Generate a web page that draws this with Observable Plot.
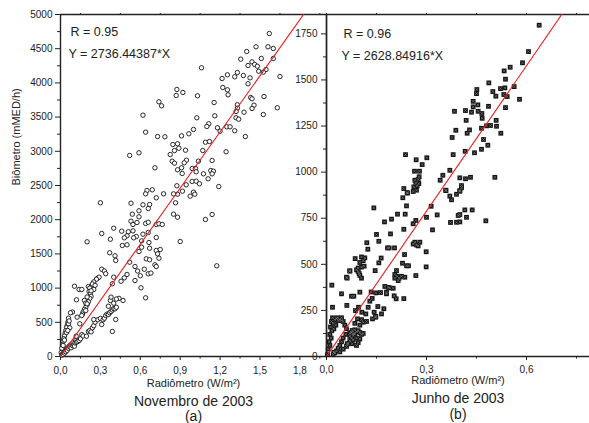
<!DOCTYPE html>
<html><head><meta charset="utf-8">
<script src="https://cdn.jsdelivr.net/npm/d3@7"></script>
<script src="https://cdn.jsdelivr.net/npm/@observablehq/plot@0.6"></script>
<style>
body{margin:0;background:#fff;}
#wrap{position:relative;width:589px;height:423px;overflow:hidden;}
#wrap svg{position:absolute;top:0;overflow:visible;}
</style></head><body><div id="wrap"></div>
<script>
// Novembro de 2003: [Radiômetro (W/m²), Biômetro (mMED/h)]
const novembro = [
[1.57,4722],[1.47,4528],[1.56,4528],[1.60,4503],[1.40,4459],[1.355,4347],[1.51,4357],[1.60,4357],[1.44,4308],[1.41,4254],[1.46,4269],[1.48,4244],[1.545,4196],[1.525,4157],[1.49,4171],[1.33,4152],[1.375,4108],[1.425,4074],[1.65,4094],[1.06,4221],[1.255,4118],[1.215,4064],[1.31,4089],[1.41,3987],[1.22,3933],[1.255,3899],[1.26,3826],[0.875,3904],[0.92,3860],[0.87,3816],[1.03,3811],[1.43,3787],[1.44,3768],[1.53,3801],[0.74,3724],[0.76,3665],[1.155,3713],[1.33,3680],[1.33,3630],[1.455,3674],[1.44,3626],[1.63,3636],[1.32,3582],[1.38,3572],[1.525,3538],[0.62,3528],[1.025,3490],[1.16,3519],[1.32,3490],[1.34,3470],[1.115,3402],[1.10,3363],[1.0,3319],[0.965,3256],[1.18,3344],[1.25,3358],[1.275,3358],[1.31,3300],[1.20,3294],[0.64,3280],[0.73,3216],[0.785,3212],[0.91,3226],[1.39,3216],[1.09,3133],[1.12,3143],[0.845,3099],[0.88,3110],[0.89,3045],[0.857,3011],[0.94,3016],[1.07,3011],[0.825,2953],[1.245,2993],[0.52,2939],[0.59,2978],[0.84,2855],[0.857,2826],[0.947,2870],[0.93,2832],[1.14,2866],[1.037,2855],[0.71,2759],[0.91,2759],[0.88,2730],[0.99,2749],[1.015,2749],[1.02,2700],[1.13,2719],[1.15,2709],[1.075,2671],[0.915,2676],[1.14,2671],[1.11,2598],
[0.875,2496],[0.945,2510],[0.917,2417],[0.99,2559],[1.02,2563],[1.045,2525],[1.19,2485],[1.0,2402],[0.975,2344],[1.01,2373],[0.88,2373],[0.85,2378],[0.65,2427],[0.64,2378],[0.69,2437],[0.72,2320],[0.775,2378],[0.30,2247],[0.53,2241],[0.865,2247],[0.62,2218],[0.67,2222],[0.66,2164],[0.59,2130],[0.54,2081],[0.85,2081],[0.88,2037],[0.59,2042],[1.14,2076],[1.09,2003],[0.53,1978],[0.545,1930],[0.575,1959],[0.64,1945],[0.66,1963],[0.72,1930],[0.74,1940],[0.765,1930],[0.40,1876],[0.46,1832],[0.51,1823],[0.545,1837],[0.62,1788],[0.66,1813],[0.31,1798],[0.50,1764],[0.48,1735],[0.57,1754],[0.55,1735],[0.72,1740],[0.375,1715],[0.20,1677],[0.61,1691],[0.665,1667],[0.90,1681],[0.465,1623],[0.50,1633],[0.61,1598],[0.67,1583],[0.72,1550],[0.75,1564],[0.73,1501],[0.59,1535],[0.37,1516],[0.41,1472],[0.415,1404],[0.645,1428],[0.67,1414],[0.74,1437],[0.71,1341],[0.72,1316],[0.52,1379],[0.56,1316],[0.63,1276],[1.175,1326],[0.31,1276],
[0.105,1028],[0.14,980],[0.16,980],[0.21,1023],[0.23,1013],[0.28,1145],[0.29,1160],[0.27,1130],[0.25,1090],[0.24,1060],[0.22,1000],[0.215,950],[0.225,920],[0.23,880],[0.22,850],[0.21,800],[0.2,760],[0.19,720],[0.18,690],[0.17,650],[0.165,620],[0.12,829],[0.09,650],[0.075,639],[0.06,560],[0.055,500],[0.05,453],[0.045,420],[0.04,380],[0.035,340],[0.03,300],[0.025,260],[0.02,220],[0.015,170],[0.01,120],[0.005,60],[0.06,480],[0.065,520],[0.07,420],[0.045,350],[0.055,380],[0.02,160],[0.03,240],[0.25,980],[0.26,1040],[0.23,960],[0.2,870],[0.18,820],[0.19,780],
[0.01,20],[0.015,40],[0.02,30],[0.025,60],[0.03,50],[0.035,80],[0.04,70],[0.045,110],[0.05,90],[0.055,130],[0.06,120],[0.065,150],[0.07,140],[0.075,170],[0.08,127],[0.085,180],[0.09,160],[0.095,200],[0.1,170],[0.105,151],[0.11,200],[0.115,234],[0.12,210],[0.13,219],[0.14,234],[0.15,259],[0.118,297],[0.16,320],[0.17,300],[0.195,297],[0.21,366],[0.22,380],[0.23,360],[0.24,420],[0.25,450],[0.26,502],[0.28,537],[0.30,556],[0.31,468],[0.32,537],[0.33,560],[0.34,599],[0.35,620],[0.36,614],[0.37,640],[0.38,658],[0.39,680],[0.40,700],[0.41,697],[0.42,720],[0.36,735],[0.40,779],[0.39,366],[0.415,541],[0.375,819],[0.38,868],[0.47,819],[0.44,850],[0.42,840],[0.25,541],[0.16,599],[0.145,478],[0.19,672],[0.20,770],[0.125,575],
[0.40,1160],[0.39,1063],[0.48,1150],[0.56,1111],[0.605,1004],[0.64,858],[0.66,1209],[0.68,1220],[0.455,1100],[0.5,1200],[0.58,1250],[0.6,1180],[0.33,1250],[0.34,1210]
];
// Junho de 2003
const junho = [
[0.638,1797],[0.606,1654],[0.588,1593],[0.551,1569],[0.533,1549],[0.537,1504],[0.487,1484],[0.451,1448],[0.45,1426],[0.499,1437],[0.522,1453],[0.535,1457],[0.563,1464],[0.508,1412],[0.532,1421],[0.542,1410],[0.579,1395],[0.44,1384],[0.454,1365],[0.486,1357],[0.44,1354],[0.537,1350],[0.384,1330],[0.417,1334],[0.435,1325],[0.455,1330],[0.466,1318],[0.419,1281],[0.467,1292],[0.509,1281],[0.465,1238],[0.48,1251],[0.492,1253],[0.51,1249],[0.388,1227],[0.429,1229],[0.422,1211],[0.523,1211],[0.377,1188],[0.471,1177],[0.484,1146],[0.465,1124],[0.416,1113],[0.444,1105],[0.38,1095],[0.237,1095],[0.269,1067],[0.287,1041],[0.301,1078],[0.264,1005],[0.279,1005],[0.37,1010],[0.278,975],[0.265,956],[0.277,938],[0.349,983],[0.341,956],[0.40,969],[0.417,964],[0.432,972],[0.505,972],[0.262,920],[0.27,902],[0.232,911],[0.242,889],[0.358,902],[0.405,927],[0.40,896],[0.268,940],[0.272,925],[0.275,960],[0.26,895],
[0.229,861],[0.243,886],[0.24,817],[0.142,806],[0.314,815],[0.358,900],[0.37,870],[0.375,850],[0.39,880],[0.40,900],[0.405,915],[0.213,772],[0.236,772],[0.195,745],[0.174,730],[0.268,738],[0.26,720],[0.30,755],[0.332,768],[0.415,795],[0.437,795],[0.40,770],[0.395,765],[0.42,755],[0.372,727],[0.39,728],[0.40,730],[0.478,736],[0.232,690],[0.318,687],[0.15,662],[0.192,665],[0.157,625],[0.121,617],[0.26,610],[0.265,620],[0.27,605],[0.28,620],[0.275,600],[0.124,582],[0.183,589],[0.188,589],[0.204,589],[0.299,568],[0.234,553],[0.164,534],[0.157,508],[0.086,531],[0.105,540],[0.115,535],[0.11,520],[0.1,510],[0.095,480],[0.105,485],[0.113,490],[0.095,460],[0.1,440],[0.105,425],[0.09,470],[0.098,450],[0.07,465],[0.06,430],[0.228,506],[0.24,492],[0.246,492],[0.146,466],[0.21,466],[0.205,445],[0.212,435],[0.218,425],[0.225,435],[0.235,430],[0.205,425],[0.215,412],[0.299,486],[0.268,439],[0.016,387],[0.045,340],[0.075,327],[0.082,327],[0.10,349],[0.134,350],[0.148,345],[0.162,347],[0.175,380],[0.185,375],[0.18,340],[0.19,372],[0.2,370],[0.232,314],[0.203,329],
[0.018,267],[0.061,277],[0.096,267],[0.106,240],[0.118,231],[0.143,240],[0.138,204],[0.148,217],[0.11,186],[0.093,204],[0.087,249],[0.062,425],[0.07,463],[0.125,267],[0.154,271],[0.172,259],[0.147,213],[0.165,231],[0.209,313],[0.18,349],[0.137,315],[0.13,300],[0.085,180],[0.1,170],[0.105,200],[0.12,190],
[0.005,40],[0.008,80],[0.01,120],[0.012,160],[0.015,190],[0.018,210],[0.02,180],[0.022,150],[0.025,200],[0.03,205],[0.035,195],[0.04,200],[0.045,195],[0.05,190],[0.055,170],[0.06,150],[0.058,120],[0.05,100],[0.045,80],[0.04,60],[0.035,45],[0.03,30],[0.025,20],[0.02,10],[0.04,25],[0.05,40],[0.06,55],[0.065,70],[0.07,85],[0.075,100],[0.08,115],[0.085,125],[0.09,135],[0.095,140],[0.1,130],[0.105,120],[0.09,100],[0.08,90],[0.1,95],[0.11,125],[0.07,110],[0.075,130],[0.085,145],[0.095,75],[0.09,60],[0.022,23],[0.062,69],[0.077,69],[0.082,123],[0.077,141],[0.07,126],[0.003,10],[0.01,60],[0.014,100],[0.016,140],[0.028,170],[0.033,210],[0.045,210]
];
const fitNov = 2736.44387, fitJun = 2628.84916;
const rNov = 0.95, rJun = 0.96;
const xDomNov = [0, 2.0], yDomNov = [0, 5000];
const xDomJun = [0, 0.789], yDomJun = [0, 1855];
const xTicksNov = [0, 0.3, 0.6, 0.9, 1.2, 1.5, 1.8];
const xMinorNov = [0.15, 0.45, 0.75, 1.05, 1.35, 1.65, 1.95];
const yTicksNov = [0, 500, 1000, 1500, 2000, 2500, 3000, 3500, 4000, 4500, 5000];
const yMinorNov = [250, 750, 1250, 1750, 2250, 2750, 3250, 3750, 4250, 4750];
const xTicksJun = [0, 0.3, 0.6];
const xMinorJun = [0.15, 0.45, 0.75];
const yTicksJun = [0, 250, 500, 750, 1000, 1250, 1500, 1750];
const yMinorJun = [125, 375, 625, 875, 1125, 1375, 1625];
const titles = {xLabel: "Radiômetro (W/m²)", yLabel: "Biômetro (mMED/h)", nov: "Novembro de 2003", jun: "Junho de 2003"};

const ink = "#222";
const font = "'Liberation Sans', Arial, Helvetica, sans-serif";
const fmt = d => d.toFixed(1).replace(".", ",");
const fmtY = d => String(d);
const none = () => "";
const style = {fontFamily: font, fontSize: "10px", color: ink, background: "transparent", overflow: "visible"};
const lbl = (s, o) => Plot.text([s], {text: d => d, fill: ink, fontFamily: font, ...o});

const left = Plot.plot({
  width: 330, height: 423, marginLeft: 60, marginRight: 4, marginTop: 14, marginBottom: 67,
  style,
  x: {domain: xDomNov}, y: {domain: yDomNov},
  marks: [
    Plot.axisX(xTicksNov, {tickSize: 4, tickPadding: 6, tickFormat: fmt, fontSize: 10, label: null}),
    Plot.axisX(xMinorNov, {tickSize: 2.5, tickFormat: none, label: null}),
    Plot.axisX(xMinorNov, {anchor: "top", tickSize: 2, tickFormat: none, label: null}),
    Plot.axisY(yTicksNov, {tickSize: 5, tickPadding: 3, tickFormat: fmtY, fontSize: 10, label: null}),
    Plot.axisY(yMinorNov, {tickSize: 3, tickFormat: none, label: null}),
    Plot.ruleX(xDomNov, {stroke: ink, strokeWidth: 1.4}),
    Plot.ruleY(yDomNov, {stroke: ink, strokeWidth: 1.4}),
    Plot.dot(novembro, {x: d => d[0], y: d => d[1], r: 2.2, stroke: "#111", strokeWidth: 0.9, fill: "white"}),
    Plot.line(xDomNov, {x: d => d, y: d => fitNov * d, stroke: "#ee1c1c", strokeWidth: 1.1, clip: true}),
    lbl(`R = ${rNov.toFixed(2)}`, {frameAnchor: "top-left", dx: 10, dy: 13, textAnchor: "start", fontSize: 12.5}),
    lbl(`Y = ${fitNov}*X`, {frameAnchor: "top-left", dx: 8, dy: 35, textAnchor: "start", fontSize: 12.5}),
    lbl(titles.yLabel, {frameAnchor: "left", dx: -44, rotate: -90, fontSize: 11}),
    lbl(titles.xLabel, {frameAnchor: "bottom", dy: 30, fontSize: 11}),
    lbl(titles.nov, {frameAnchor: "bottom", dy: 49, fontSize: 14}),
    lbl("(a)", {frameAnchor: "bottom", dy: 64, fontSize: 14})
  ]
});
left.style.left = "0px";

const right = Plot.plot({
  width: 303, height: 423, marginLeft: 40, marginRight: 0, marginTop: 14, marginBottom: 67,
  style,
  x: {domain: xDomJun}, y: {domain: yDomJun},
  marks: [
    Plot.axisX(xTicksJun, {tickSize: 4, tickPadding: 5, tickFormat: fmt, fontSize: 10, label: null}),
    Plot.axisX(xMinorJun, {tickSize: 2.5, tickFormat: none, label: null}),
    Plot.axisX([...xTicksJun, ...xMinorJun], {anchor: "top", tickSize: 2, tickFormat: none, label: null}),
    Plot.axisY(yTicksJun, {tickSize: 5, tickPadding: 4, tickFormat: fmtY, fontSize: 10, label: null}),
    Plot.axisY(yMinorJun, {tickSize: 3, tickFormat: none, label: null}),
    Plot.ruleX([0], {stroke: ink, strokeWidth: 1.4}),
    Plot.ruleY(yDomJun, {stroke: ink, strokeWidth: 1.4}),
    Plot.dot(junho, {x: d => d[0], y: d => d[1], symbol: "square", r: 2.7, fill: "#111"}),
    Plot.dot(junho, {x: d => d[0], y: d => d[1], symbol: "times", r: 1.4, stroke: "#8a8a8a", strokeWidth: 0.6}),
    Plot.line(xDomJun, {x: d => d, y: d => fitJun * d, stroke: "#ee1c1c", strokeWidth: 1.1, clip: true}),
    lbl(`R = ${rJun.toFixed(2)}`, {frameAnchor: "top-left", dx: 17, dy: 15, textAnchor: "start", fontSize: 12.5}),
    lbl(`Y = ${fitJun}*X`, {frameAnchor: "top-left", dx: 15, dy: 37, textAnchor: "start", fontSize: 12.5}),
    lbl(titles.xLabel, {frameAnchor: "bottom", dy: 27.5, fontSize: 11}),
    lbl(titles.jun, {frameAnchor: "bottom", dy: 46, fontSize: 14}),
    lbl("(b)", {frameAnchor: "bottom", dy: 62, fontSize: 14})
  ]
});
right.style.left = "286px";

const wrap = document.getElementById("wrap");
wrap.appendChild(left);
wrap.appendChild(right);
</script></body></html>
